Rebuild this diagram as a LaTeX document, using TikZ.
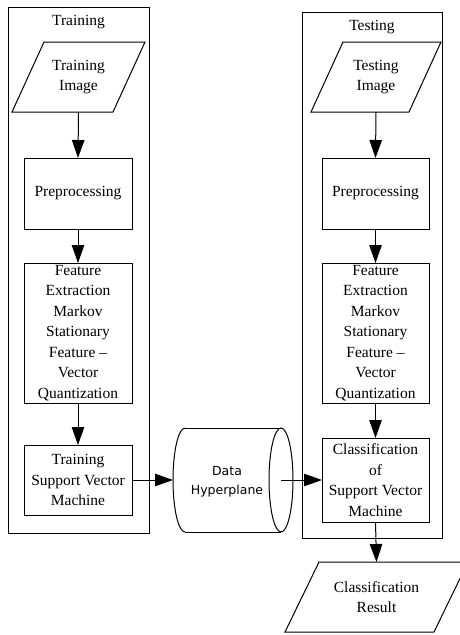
\documentclass[tikz,border=0pt]{standalone}
\usepackage{fontspec}
\setmainfont{Liberation Serif}
\newfontfamily\dhfont{DejaVu Sans}
\usetikzlibrary{arrows.meta}
\begin{document}
\begin{tikzpicture}[x=1pt,y=-1pt,line width=1pt,
  txt/.style={font=\fontsize{15.5}{20.5}\selectfont, align=center, inner sep=0pt, outer sep=0pt},
  box/.style={txt, draw, minimum width=108pt},
  frame/.style={draw, inner sep=0pt, outer sep=0pt},
  para/.style={txt},
  arr/.style={-{Triangle[length=18pt,width=12.5pt]}}]
\useasboundingbox (0,0) rectangle (460,635);

% containers
\node[frame, minimum width=141pt, minimum height=526pt] (trn) at (78.5,270) {};
\node[txt] (trnt) at (78.5,22) {Training};
\node[frame, minimum width=140pt, minimum height=526pt] (tst) at (372,275) {};
\node[txt] (tstt) at (372,27) {Testing};

% training column
\node[para, minimum width=133pt, minimum height=70pt] (ti) at (78.5,77) {Training\\Image};
\draw ([xshift=32pt]ti.north west) -- (ti.north east) -- ([xshift=-32pt]ti.south east) -- (ti.south west) -- cycle;
\node[box, minimum height=71pt] (tp) at (78,193.5) {Preprocessing};
\node[box, minimum height=140pt] (tf) at (78,333) {Feature\\Extraction\\Markov\\Stationary\\Feature --\\Vector\\Quantization};
\node[box, minimum height=70pt] (ts) at (78,480) {Training\\Support Vector\\Machine};

% testing column
\node[para, minimum width=130pt, minimum height=70pt] (tti) at (376,77) {Testing\\Image};
\draw ([xshift=32pt]tti.north west) -- (tti.north east) -- ([xshift=-32pt]tti.south east) -- (tti.south west) -- cycle;
\node[box, minimum width=107pt, minimum height=71pt] (ttp) at (375.5,193.5) {Preprocessing};
\node[box, minimum width=107pt, minimum height=140pt] (ttf) at (375.5,333) {Feature\\Extraction\\Markov\\Stationary\\Feature --\\Vector\\Quantization};
\node[box, minimum width=107pt, minimum height=84pt] (tc) at (375.5,480) {Classification\\of\\Support Vector\\Machine};

% result
\node[para, minimum width=183pt, minimum height=70pt] (res) at (376.5,597) {Classification\\Result};
\draw ([xshift=34pt]res.north west) -- (res.north east) -- ([xshift=-34pt]res.south east) -- (res.south west) -- cycle;

% data hyperplane cylinder
\node[inner sep=0pt, outer sep=0pt, minimum width=120pt, minimum height=104pt] (dh) at (233,480) {};
\node[inner sep=0pt, align=center, font=\dhfont\fontsize{12.5}{19}\selectfont] (dht) at (227,482) {Data\\Hyperplane};
\coordinate (dhr) at ([xshift=-12pt]dh.east);
\draw ([xshift=12pt]dh.north west) -- ([xshift=-12pt]dh.north east);
\draw ([xshift=12pt]dh.south west) -- ([xshift=-12pt]dh.south east);
\draw ([xshift=12pt]dh.north west) arc[start angle=90, end angle=270, x radius=12pt, y radius=52pt];
\draw (dhr) ellipse [x radius=12pt, y radius=52pt];

% connectors
\draw[arr] (ti.south) -- (tp.north);
\draw[arr] (tp.south) -- (tf.north);
\draw[arr] (tf.south) -- (ts.north);
\draw[arr] (ts.east) -- (dh.west);
\draw[arr] (tti.south) -- (ttp.north);
\draw[arr] (ttp.south) -- (ttf.north);
\draw[arr] (ttf.south) -- (tc.north);
\draw[arr] (dhr) -- (tc.west);
\draw[arr] (tc.south) -- (res.north);
\end{tikzpicture}
\end{document}
